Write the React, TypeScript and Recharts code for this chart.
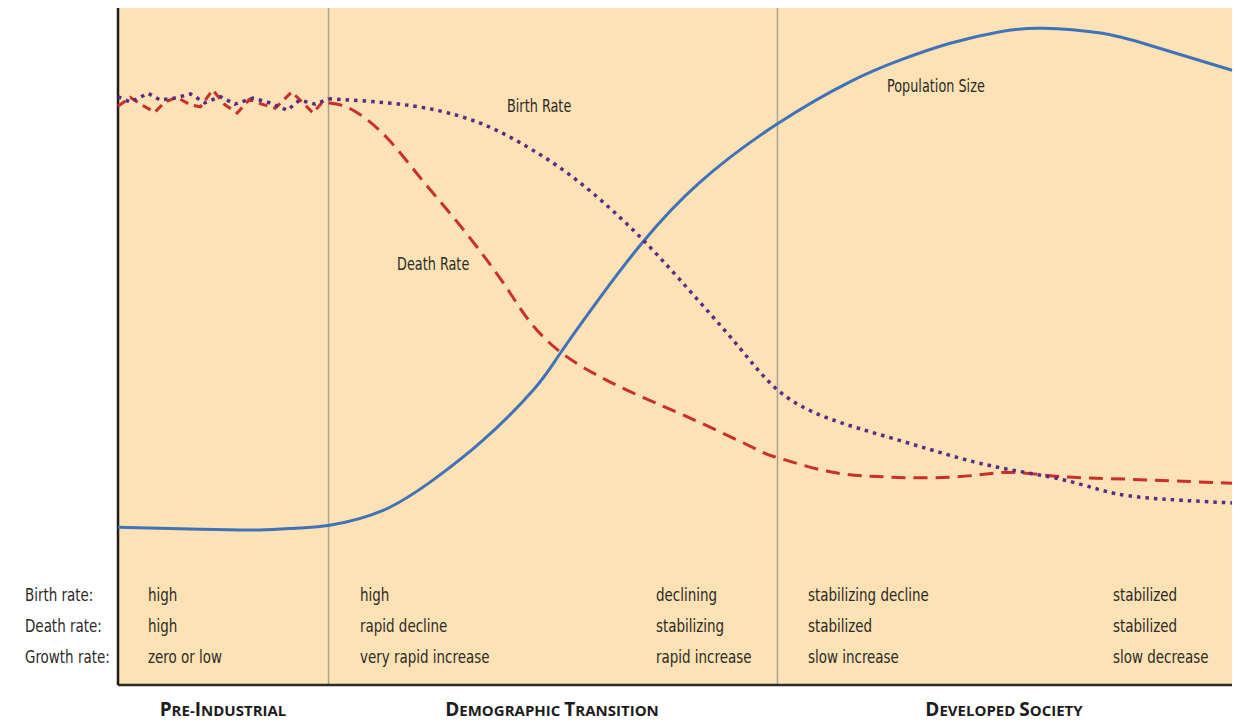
import React from "react";
import { LineChart, Line, XAxis, YAxis, CartesianGrid, ReferenceLine } from "recharts";

// time runs 0..100 across the plot, rates/size on a 0..100 relative scale
type Pt = { t: number; v: number };

const population: Pt[] = [
  { t: 0, v: 23.3 }, { t: 7.4, v: 23.0 }, { t: 12.7, v: 22.9 }, { t: 16.3, v: 23.2 },
  { t: 19.0, v: 23.6 }, { t: 23.8, v: 25.8 }, { t: 28.3, v: 30.3 }, { t: 32.8, v: 36.2 },
  { t: 37.3, v: 43.6 }, { t: 39.7, v: 49.0 }, { t: 43.3, v: 57.3 }, { t: 47.1, v: 65.4 },
  { t: 52.2, v: 74.2 }, { t: 59.2, v: 82.9 }, { t: 65.7, v: 89.1 }, { t: 70.2, v: 92.3 },
  { t: 74.7, v: 94.8 }, { t: 79.2, v: 96.5 }, { t: 83.0, v: 97.0 }, { t: 88.2, v: 96.3 },
  { t: 92.6, v: 94.5 }, { t: 100, v: 90.8 },
];

// jagged pre-industrial stretch
const deathEarly: Pt[] = [
  { t: 0, v: 85.5 }, { t: 1.1, v: 86.8 }, { t: 2.0, v: 85.8 }, { t: 3.3, v: 84.6 },
  { t: 4.2, v: 86.1 }, { t: 5.3, v: 86.8 }, { t: 6.5, v: 85.7 }, { t: 7.4, v: 85.4 },
  { t: 8.5, v: 87.9 }, { t: 9.6, v: 85.7 }, { t: 10.7, v: 84.5 }, { t: 11.8, v: 86.5 },
  { t: 12.9, v: 85.8 }, { t: 14.1, v: 85.2 }, { t: 15.6, v: 87.6 }, { t: 16.6, v: 86.0 },
  { t: 17.5, v: 84.5 }, { t: 18.3, v: 86.0 }, { t: 18.9, v: 86.0 },
];

const deathLate: Pt[] = [
  { t: 18.9, v: 86.0 }, { t: 21.1, v: 84.9 }, { t: 24.1, v: 80.9 }, { t: 27.1, v: 75.0 },
  { t: 30.1, v: 69.1 }, { t: 33.1, v: 62.8 }, { t: 35.2, v: 57.9 }, { t: 37.0, v: 53.6 },
  { t: 39.7, v: 49.2 }, { t: 43.3, v: 45.5 }, { t: 47.1, v: 42.5 }, { t: 52.2, v: 38.8 },
  { t: 57.6, v: 34.6 }, { t: 59.2, v: 33.6 }, { t: 63.6, v: 31.6 }, { t: 68.1, v: 30.8 },
  { t: 72.6, v: 30.6 }, { t: 77.1, v: 31.0 }, { t: 80.3, v: 31.4 }, { t: 84.6, v: 30.8 },
  { t: 90.6, v: 30.4 }, { t: 100, v: 29.8 },
];

const birthEarly: Pt[] = [
  { t: 0, v: 86.9 }, { t: 1.1, v: 86.1 }, { t: 2.7, v: 87.4 }, { t: 3.8, v: 86.4 },
  { t: 5.1, v: 86.7 }, { t: 6.5, v: 87.3 }, { t: 7.8, v: 86.0 }, { t: 9.2, v: 86.9 },
  { t: 10.5, v: 85.8 }, { t: 12.1, v: 86.7 }, { t: 13.6, v: 86.0 }, { t: 15.2, v: 84.9 },
  { t: 16.3, v: 86.4 }, { t: 17.7, v: 85.8 }, { t: 18.9, v: 86.6 },
];

const birthLate: Pt[] = [
  { t: 18.9, v: 86.6 }, { t: 24.1, v: 86.0 }, { t: 28.6, v: 84.9 }, { t: 32.5, v: 83.0 },
  { t: 36.1, v: 80.1 }, { t: 40.6, v: 75.3 }, { t: 45.1, v: 69.0 }, { t: 48.6, v: 63.2 },
  { t: 52.2, v: 56.6 }, { t: 55.8, v: 49.8 }, { t: 59.2, v: 43.6 }, { t: 63.6, v: 39.5 },
  { t: 69.6, v: 36.4 }, { t: 75.6, v: 33.5 }, { t: 80.1, v: 31.8 }, { t: 84.6, v: 30.4 },
  { t: 88.0, v: 28.9 }, { t: 92.0, v: 27.7 }, { t: 100, v: 26.9 },
];

const stageBreaks = [18.9, 59.2];

const rowLabels = ["Birth rate:", "Death rate:", "Growth rate:"];
const columns: { x: number; rows: string[] }[] = [
  { x: 148, rows: ["high", "high", "zero or low"] },
  { x: 360, rows: ["high", "rapid decline", "very rapid increase"] },
  { x: 656, rows: ["declining", "stabilizing", "rapid increase"] },
  { x: 808, rows: ["stabilizing decline", "stabilized", "slow increase"] },
  { x: 1113, rows: ["stabilized", "stabilized", "slow decrease"] },
];
const stages: { cx: number; words: string[] }[] = [
  { cx: 223, words: ["Pre-Industrial"] },
  { cx: 552, words: ["Demographic", "Transition"] },
  { cx: 1004, words: ["Developed", "Society"] },
];

const FONT = "'DejaVu Sans Condensed', 'DejaVu Sans', sans-serif";
const INK = "#2b2a26";

// condensed text: the look of the original face is narrower than anything installed
const T = ({ x, y, children, sx = 0.88 }: { x: number; y: number; children: React.ReactNode; sx?: number }) => (
  <text transform={`translate(${x} ${y}) scale(${sx} 1)`}>{children}</text>
);

// small caps drawn with two sizes
const SmallCaps = ({ word }: { word: string }) => (
  <>
    {word.split("").map((ch, i) => (
      <tspan key={i} fontSize={ch !== ch.toLowerCase() ? 19 : 15}>{ch.toUpperCase()}</tspan>
    ))}
  </>
);

export default function App() {
  return (
    <div style={{ position: "absolute", left: 0, top: 0, width: 1234, height: 721, background: "#fff" }}>
      <LineChart width={1234} height={721} margin={{ top: 8, right: 2, left: 118, bottom: 36 }}>
        <CartesianGrid horizontal={false} vertical={false} fill="#fde2b6" />
        <XAxis dataKey="t" type="number" domain={[0, 100]} hide allowDuplicatedCategory={false} />
        <YAxis type="number" domain={[0, 100]} hide />
        {stageBreaks.map((b) => (
          <ReferenceLine key={b} x={b} stroke="#aaa398" strokeWidth={1.5} />
        ))}
        <ReferenceLine x={0} stroke="#1e1e1e" strokeWidth={2.5} />
        <ReferenceLine y={0} stroke="#2a2a2a" strokeWidth={2.5} />
        <Line data={population} dataKey="v" type="natural" stroke="#3f72b8" strokeWidth={3} dot={false} isAnimationActive={false} />
        <Line data={deathEarly} dataKey="v" type="linear" stroke="#c9302c" strokeWidth={3} strokeDasharray="9 6" dot={false} isAnimationActive={false} />
        <Line data={deathLate} dataKey="v" type="natural" stroke="#c9302c" strokeWidth={3} strokeDasharray="14 8" dot={false} isAnimationActive={false} />
        <Line data={birthEarly} dataKey="v" type="linear" stroke="#5a2a88" strokeWidth={3.5} strokeDasharray="3.5 5" dot={false} isAnimationActive={false} />
        <Line data={birthLate} dataKey="v" type="natural" stroke="#5a2a88" strokeWidth={3.5} strokeDasharray="3.5 5" dot={false} isAnimationActive={false} />
      </LineChart>
      <svg width={1234} height={721} style={{ position: "absolute", left: 0, top: 0, pointerEvents: "none" }}>
        <g fontFamily={FONT} fill={INK} fontSize={17}>
          <T x={887} y={92} sx={0.84}>Population Size</T>
          <T x={507} y={112} sx={0.84}>Birth Rate</T>
          <T x={397} y={270} sx={0.84}>Death Rate</T>
          {rowLabels.map((r, i) => (
            <T key={r} x={25} y={601 + i * 31}>{r}</T>
          ))}
          {columns.map((c) =>
            c.rows.map((r, i) => (
              <T key={c.x + "-" + i} x={c.x} y={601 + i * 31}>{r}</T>
            ))
          )}
          {stages.map((s) => (
            <text key={s.cx} x={s.cx} y={716} textAnchor="middle" fontWeight="bold" fill="#1c1c1c"
              fontFamily="'Open Sans', 'DejaVu Sans', sans-serif">
              {s.words.map((w, i) => (
                <React.Fragment key={w}>
                  {i > 0 ? <tspan fontSize={15}> </tspan> : null}
                  <SmallCaps word={w} />
                </React.Fragment>
              ))}
            </text>
          ))}
        </g>
      </svg>
    </div>
  );
}
